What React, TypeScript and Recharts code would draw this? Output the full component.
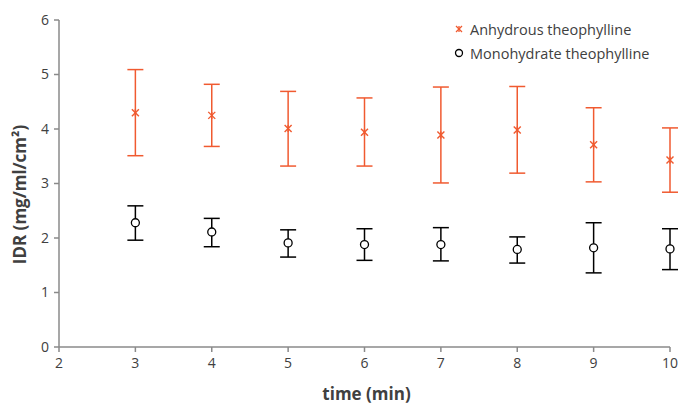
import React from 'react';
import { ScatterChart, Scatter, XAxis, YAxis, ErrorBar } from 'recharts';

const times = [3, 4, 5, 6, 7, 8, 9, 10];
const anhydrousMean = [4.30, 4.25, 4.01, 3.94, 3.89, 3.98, 3.71, 3.43];
const anhydrousLow = [3.51, 3.68, 3.32, 3.32, 3.01, 3.19, 3.03, 2.84];
const anhydrousHigh = [5.09, 4.82, 4.69, 4.57, 4.77, 4.78, 4.39, 4.02];
const monoMean = [2.28, 2.11, 1.91, 1.88, 1.88, 1.79, 1.82, 1.80];
const monoLow = [1.96, 1.84, 1.65, 1.59, 1.58, 1.54, 1.36, 1.42];
const monoHigh = [2.59, 2.36, 2.15, 2.17, 2.19, 2.02, 2.28, 2.17];
const xTicks = [2, 3, 4, 5, 6, 7, 8, 9, 10];
const yTicks = [0, 1, 2, 3, 4, 5, 6];
const seriesNames = ['Anhydrous theophylline', 'Monohydrate theophylline'];
const xTitle = 'time (min)';
const yTitle = 'IDR (mg/ml/cm²)';

const ORANGE = '#F05A30';
const AXIS = '#8A8A8A';
const TEXT = '#404040';
const FONT = '"Open Sans", Lato, sans-serif';

const anhydrousData = times.map((t, i) => ({
  x: t,
  y: anhydrousMean[i],
  err: [anhydrousMean[i] - anhydrousLow[i], anhydrousHigh[i] - anhydrousMean[i]],
}));
const monoData = times.map((t, i) => ({
  x: t,
  y: monoMean[i],
  err: [monoMean[i] - monoLow[i], monoHigh[i] - monoMean[i]],
}));

const StarShape = (props: any) => {
  const { cx, cy } = props;
  const s = 3.5;
  return (
    <g stroke={ORANGE} strokeWidth={1.4}>
      <line x1={cx - s} y1={cy - s} x2={cx + s} y2={cy + s} />
      <line x1={cx - s} y1={cy + s} x2={cx + s} y2={cy - s} />
      <line x1={cx} y1={cy - s} x2={cx} y2={cy + s} />
    </g>
  );
};

const CircleShape = (props: any) => {
  const { cx, cy } = props;
  return <circle cx={cx} cy={cy} r={4} fill="#fff" stroke="#000" strokeWidth={1.3} />;
};

const XTitle = (props: any) => {
  const vb = props.viewBox || {};
  const x = vb.x + vb.width / 2 + 2;
  const y = vb.y + vb.height - 4;
  return (
    <text x={x} y={y} textAnchor="middle" dominantBaseline="central" fontFamily={FONT} fontSize={17} fontWeight={700} fill={TEXT}>
      {xTitle}
    </text>
  );
};

const YTitle = (props: any) => {
  const vb = props.viewBox || {};
  const x = 19;
  const y = vb.y + vb.height / 2 + 11;
  return (
    <text
      x={x}
      y={y}
      transform={`rotate(-90 ${x} ${y})`}
      textAnchor="middle"
      dominantBaseline="central"
      fontFamily={FONT}
      fontSize={17}
      fontWeight={700}
      fill={TEXT}
    >
      {yTitle}
    </text>
  );
};

const LegendBox = () => (
  <svg
    width={230}
    height={50}
    style={{ position: 'absolute', left: 455, top: 16, overflow: 'visible' }}
  >
    <g stroke={ORANGE} strokeWidth={1.3} transform="translate(4,13)">
      <line x1={-3} y1={-3} x2={3} y2={3} />
      <line x1={-3} y1={3} x2={3} y2={-3} />
      <line x1={0} y1={-3} x2={0} y2={3} />
    </g>
    <text x={15} y={13} dominantBaseline="central" fontFamily={FONT} fontSize={14.5} fill={TEXT}>
      {seriesNames[0]}
    </text>
    <circle cx={4} cy={37} r={3.5} fill="#fff" stroke="#000" strokeWidth={1.3} />
    <text x={15} y={37} dominantBaseline="central" fontFamily={FONT} fontSize={14.5} fill={TEXT}>
      {seriesNames[1]}
    </text>
  </svg>
);

export default function App() {
  return (
    <div style={{ position: 'fixed', left: 0, top: 0, width: 681, height: 403, background: '#fff' }}>
      <ScatterChart
        width={681}
        height={403}
        margin={{ top: 20, right: 11, left: 8, bottom: 6 }}
        style={{ fontFamily: FONT }}
      >
        <XAxis
          type="number"
          dataKey="x"
          domain={[2, 10]}
          ticks={xTicks}
          height={50}
          stroke={AXIS}
          strokeWidth={1.5}
          tickSize={5}
          tickMargin={6}
          tick={{ fill: TEXT, fontSize: 14, fontFamily: FONT }}
          tickLine={{ stroke: AXIS }}
          label={<XTitle />}
        />
        <YAxis
          type="number"
          dataKey="y"
          domain={[0, 6]}
          ticks={yTicks}
          width={51}
          stroke={AXIS}
          strokeWidth={1.5}
          tickSize={5}
          tickMargin={5}
          tick={{ fill: TEXT, fontSize: 14, fontFamily: FONT }}
          tickLine={{ stroke: AXIS }}
          label={<YTitle />}
        />
        <Scatter name={seriesNames[0]} data={anhydrousData} shape={<StarShape />} isAnimationActive={false}>
          <ErrorBar dataKey="err" direction="y" width={8} stroke={ORANGE} strokeWidth={1.5} />
        </Scatter>
        <Scatter name={seriesNames[1]} data={monoData} shape={<CircleShape />} isAnimationActive={false}>
          <ErrorBar dataKey="err" direction="y" width={8} stroke="#000" strokeWidth={1.5} />
        </Scatter>
      </ScatterChart>
      <LegendBox />
    </div>
  );
}
